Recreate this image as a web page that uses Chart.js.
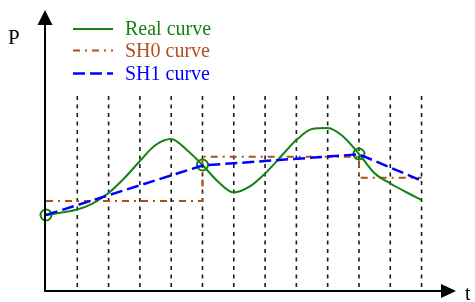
<!DOCTYPE html>
<html>
<head>
<meta charset="utf-8">
<script src="https://cdn.jsdelivr.net/npm/chart.js@4/dist/chart.umd.min.js"></script>
<style>
html,body{margin:0;padding:0;background:#fff;}
#c{display:block;}
</style>
</head>
<body>
<canvas id="c" width="475" height="302"></canvas>
<script>
// ---- data ----
const realT = [0,0.5,1,1.5,2,2.5,3,3.5,4,4.5,5,5.5,6,6.5,7,7.5,8,8.5,9,9.5,10,10.5,11,11.5,12];
const realP = [7.6,7.85,8.15,8.77,9.8,11.27,13.0,14.6,15.2,14.1,12.6,10.93,9.85,10.43,11.75,13.43,15.1,16.2,16.3,15.43,13.7,11.77,10.75,9.9,9.1];
const knotT = [0,5,10];
const sh0T = [0,5,10,12];
const sh0P = [9.0,13.43,11.33,11.33];
const sh1T = [0,5,10,12];
const sh1P = [7.6,12.55,13.67,11.03];
const gridT = [1,2,3,4,5,6,7,8,9,10,11,12];
const gridLow = 0.4, gridHigh = 19.6;
const legendLabels = ['Real curve','SH0 curve','SH1 curve'];
const axisLabels = {y:'P', x:'t'};

const GREEN = 'rgb(20,130,20)';
const BROWN = 'rgb(175,80,25)';
const BLUE = 'rgb(0,0,255)';
const SH0_DASH = [7,5,2,5];
const SH1_DASH = [12,5];
const SERIF = '"Liberation Serif", "Times New Roman", Times, "DejaVu Serif", serif';

const pts = (xs, ys) => xs.map((x,i)=>({x:x,y:ys[i]}));
const gridData = [];
gridT.forEach(t=>{ gridData.push({x:t,y:gridLow},{x:t,y:gridHigh},{x:t,y:null}); });

const overlay = {
  id:'overlay',
  afterDatasetsDraw(chart){
    const ctx = chart.ctx, xs = chart.scales.x, ys = chart.scales.y;
    const x0 = xs.getPixelForValue(0) - 1, y0 = ys.getPixelForValue(0);
    const xEnd = xs.getPixelForValue(xs.max), yEnd = ys.getPixelForValue(ys.max);
    ctx.save();
    ctx.strokeStyle='#000'; ctx.fillStyle='#000'; ctx.lineWidth=2; ctx.setLineDash([]);
    // y axis
    ctx.beginPath(); ctx.moveTo(x0,y0+1); ctx.lineTo(x0,yEnd+12); ctx.stroke();
    ctx.beginPath(); ctx.moveTo(x0,yEnd); ctx.lineTo(x0-7.5,yEnd+15); ctx.lineTo(x0+7.5,yEnd+15); ctx.closePath(); ctx.fill();
    // x axis
    ctx.beginPath(); ctx.moveTo(x0-1,y0); ctx.lineTo(xEnd-12,y0); ctx.stroke();
    ctx.beginPath(); ctx.moveTo(xEnd,y0); ctx.lineTo(xEnd-15,y0-7); ctx.lineTo(xEnd-15,y0+7); ctx.closePath(); ctx.fill();
    // axis labels
    ctx.font='21px ' + SERIF; ctx.textBaseline='alphabetic'; ctx.textAlign='left';
    ctx.fillText(axisLabels.y, 8, 44);
    ctx.font='20px ' + SERIF;
    ctx.fillText(axisLabels.x, 465, 300);
    // legend
    const cols=[GREEN,BROWN,BLUE], dashes=[[],SH0_DASH,SH1_DASH], lw=[2,2,2.5];
    const lineY=[29,50.5,73.5], baseY=[34.5,57,80];
    ctx.font='20px ' + SERIF;
    for(let i=0;i<3;i++){
      ctx.strokeStyle=cols[i]; ctx.lineWidth=lw[i]; ctx.setLineDash(dashes[i]);
      ctx.beginPath(); ctx.moveTo(73,lineY[i]); ctx.lineTo(113,lineY[i]); ctx.stroke();
      ctx.fillStyle=cols[i]; ctx.fillText(legendLabels[i],125,baseY[i]);
    }
    ctx.restore();
  }
};

new Chart(document.getElementById('c'), {
  type:'line',
  data:{
    datasets:[
      {label:'grid', data:gridData, borderColor:'#1a1a1a', borderWidth:1.6, borderDash:[4,4.5], pointRadius:0, spanGaps:false, order:4, clip:false},
      {label:legendLabels[1], data:pts(sh0T,sh0P), borderColor:BROWN, borderWidth:2, borderDash:SH0_DASH, stepped:'before', pointRadius:0, order:3, clip:false},
      {label:legendLabels[0], data:pts(realT,realP), borderColor:GREEN, borderWidth:2, cubicInterpolationMode:'monotone', tension:0.4,
        pointRadius:(c)=> knotT.includes(realT[c.dataIndex]) ? 5.5 : 0,
        pointBorderColor:GREEN, pointBackgroundColor:'rgba(0,0,0,0)', pointBorderWidth:2, order:2, clip:false},
      {label:legendLabels[2], data:pts(sh1T,sh1P), borderColor:BLUE, borderWidth:2.5, borderDash:SH1_DASH, tension:0, pointRadius:0, order:1, clip:false}
    ]
  },
  options:{
    responsive:false, animation:false, devicePixelRatio:1,
    layout:{padding:{left:46,right:19,top:10,bottom:11}},
    plugins:{legend:{display:false}, tooltip:{enabled:false}},
    scales:{
      x:{type:'linear', min:0, max:13.1, display:false},
      y:{type:'linear', min:0, max:28.1, display:false}
    }
  },
  plugins:[overlay]
});
</script>
</body>
</html>
